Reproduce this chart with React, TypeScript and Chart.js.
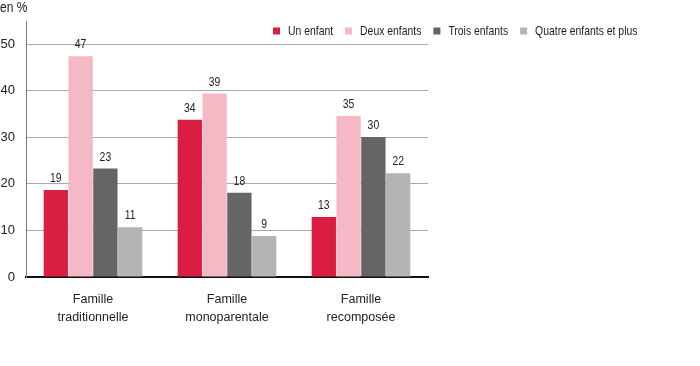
import React, { useEffect, useRef } from "react";
import { Chart, registerables } from "chart.js";

Chart.register(...registerables);

const categories = [
  ["Famille", "traditionnelle"],
  ["Famille", "monoparentale"],
  ["Famille", "recomposée"],
];
const seriesNames = ["Un enfant", "Deux enfants", "Trois enfants", "Quatre enfants et plus"];
const unEnfant = [18.7, 33.8, 12.9];
const deuxEnfants = [47.4, 39.4, 34.6];
const troisEnfants = [23.3, 18.1, 30.1];
const quatreEnfants = [10.7, 8.8, 22.3];
const seriesColors = ["#D91E42", "#F4B9C4", "#656565", "#B4B4B4"];
const yTicks = [0, 10, 20, 30, 40, 50];
const yMax = 55;
const unitLabel = "en %";

const FONT = '"Liberation Sans", Arial, sans-serif';
const TEXT = "#222222";
const CONDENSE = 0.8;

function drawCondensed(ctx: CanvasRenderingContext2D, text: string, x: number, y: number) {
  ctx.save();
  ctx.translate(x, y);
  ctx.scale(CONDENSE, 1);
  ctx.fillText(text, 0, 0);
  ctx.restore();
}

const valueLabels = {
  id: "valueLabels",
  afterDatasetsDraw(chart: any) {
    const ctx = chart.ctx;
    ctx.save();
    ctx.font = `13px ${FONT}`;
    ctx.fillStyle = TEXT;
    ctx.textAlign = "center";
    ctx.textBaseline = "bottom";
    chart.data.datasets.forEach((ds: any, i: number) => {
      const meta = chart.getDatasetMeta(i);
      meta.data.forEach((bar: any, j: number) => {
        drawCondensed(ctx, String(Math.round(ds.data[j])), bar.x, bar.y - 5);
      });
    });
    ctx.restore();
  },
};

const customLegend = {
  id: "customLegend",
  afterDraw(chart: any) {
    const ctx = chart.ctx;
    ctx.save();
    ctx.font = `15px ${FONT}`;
    ctx.fillStyle = TEXT;
    ctx.textAlign = "left";
    ctx.textBaseline = "middle";
    drawCondensed(ctx, unitLabel, 0, 8);
    ctx.font = `13px ${FONT}`;
    let x = 273;
    const yc = 31;
    const box = 7;
    chart.data.datasets.forEach((ds: any) => {
      ctx.fillStyle = ds.backgroundColor;
      ctx.fillRect(x, yc - box / 2, box, box);
      ctx.fillStyle = TEXT;
      const tx = x + box + 8;
      drawCondensed(ctx, ds.label, tx, yc);
      x = tx + ctx.measureText(ds.label).width * CONDENSE + 12;
    });
    ctx.restore();
  },
};

export default function App() {
  const ref = useRef<HTMLCanvasElement>(null);
  useEffect(() => {
    document.body.style.margin = "0";
    const seriesValues = [unEnfant, deuxEnfants, troisEnfants, quatreEnfants];
    const chart = new Chart(ref.current!, {
      type: "bar",
      data: {
        labels: categories as any,
        datasets: seriesValues.map((vals, i) => ({
          label: seriesNames[i],
          data: vals,
          backgroundColor: seriesColors[i],
          borderWidth: 0,
          categoryPercentage: 0.74,
          barPercentage: 0.98,
        })),
      },
      options: {
        responsive: false,
        animation: false,
        layout: { padding: { top: 21, right: 272, left: 0, bottom: 0 } },
        plugins: {
          legend: { display: false },
          tooltip: { enabled: false },
          title: { display: false },
        },
        scales: {
          x: {
            grid: { display: false, drawTicks: false },
            border: { display: true, color: "#111111", width: 2 },
            ticks: {
              color: TEXT,
              font: { family: FONT, size: 12.5, lineHeight: 1.45 },
              padding: 13,
              maxRotation: 0,
              autoSkip: false,
            },
            afterFit(scale: any) {
              scale.height = 89;
            },
          },
          y: {
            min: 0,
            max: yMax,
            afterBuildTicks(scale: any) {
              scale.ticks = yTicks.map((v) => ({ value: v }));
            },
            grid: {
              drawTicks: false,
              color: (c: any) => (c.tick && c.tick.value === 0 ? "rgba(0,0,0,0)" : "#A8A8A8"),
              lineWidth: 1,
            },
            border: { display: true, color: "#777777", width: 1 },
            ticks: {
              color: TEXT,
              font: { family: FONT, size: 13 },
              padding: 11,
            },
            afterFit(scale: any) {
              scale.width = 26;
            },
          },
        },
      },
      plugins: [valueLabels, customLegend],
    });
    return () => chart.destroy();
  }, []);
  return (
    <div style={{ position: "absolute", left: 0, top: 0, width: 700, height: 366, background: "#fff" }}>
      <canvas ref={ref} width={700} height={366} />
    </div>
  );
}
